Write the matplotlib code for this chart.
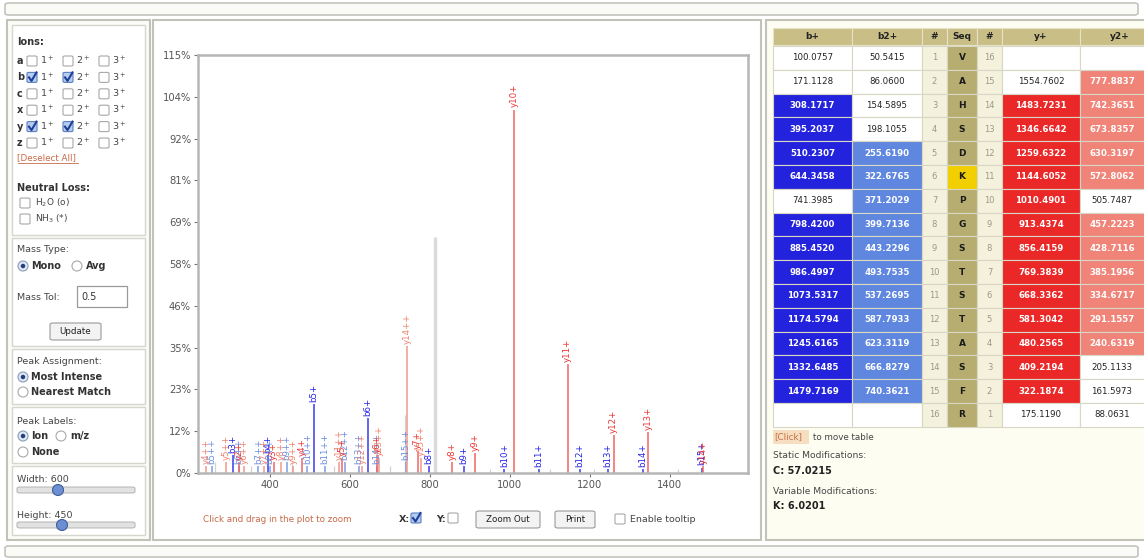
import matplotlib
matplotlib.use("Agg")
import matplotlib.pyplot as plt
from matplotlib.patches import Rectangle, FancyBboxPatch, Ellipse
from matplotlib.lines import Line2D

W, H = 1144, 559

# ---------------- data ----------------
# assigned fragment peaks (m/z, relative intensity %, label, ion type)
peak_mz = [308.17, 395.20, 510.23, 644.35, 798.42, 885.45, 986.50, 1073.53, 1174.58, 1245.62, 1332.65, 1479.72,
           255.62, 322.68, 371.20, 399.71, 443.23, 493.75, 537.27, 587.79, 623.31, 666.83, 740.36,
           322.19, 409.22, 480.26, 581.30, 668.34, 769.38, 856.42, 913.44, 1010.49, 1144.61, 1259.63, 1346.66, 1483.72,
           240.63, 291.16, 334.67, 385.20, 428.71, 457.22, 572.81, 630.32, 673.84, 742.37, 777.88]
peak_int = [5, 5, 19, 15, 2, 2, 1, 1, 1, 1, 1, 1.5,
            2, 2, 2, 2, 3, 2, 2, 3, 2, 2, 3,
            3, 3, 4, 4, 5, 6, 3, 5.5, 100, 30, 10.5, 11.3, 2,
            2, 3, 2, 2, 3, 2, 3, 2, 4, 35, 4]
peak_label = ["b3+", "b4+", "b5+", "b6+", "b8+", "b9+", "b10+", "b11+", "b12+", "b13+", "b14+", "b15+",
              "b5++", "b6++", "b7++", "b8++", "b9++", "b10++", "b11++", "b12++", "b13++", "b14++", "b15++",
              "y2+", "y3+", "y4+", "y5+", "y6+", "y7+", "y8+", "y9+", "y10+", "y11+", "y12+", "y13+", "y14+",
              "y4++", "y5++", "y6++", "y7++", "y8++", "y9++", "y11++", "y12++", "y13++", "y14++", "y15++"]
peak_type = ["b1"] * 12 + ["b2"] * 11 + ["y1"] * 13 + ["y2"] * 11

# unassigned peaks
other_mz = [813.0, 738.0, 262.0, 352.0, 455.0, 560.0, 700.0, 950.0, 1100.0, 1210.0, 1420.0]
other_int = [65, 16, 3, 2, 3, 2, 2, 1, 1, 1, 1]

x_ticks = [400, 600, 800, 1000, 1200, 1400]
y_ticks = [0, 11.5, 23, 34.5, 46, 57.5, 69, 80.5, 92, 103.5, 115]
y_tick_labels = ["0%", "12%", "23%", "35%", "46%", "58%", "69%", "81%", "92%", "104%", "115%"]

# fragment table
seq = ["V", "A", "H", "S", "D", "K", "P", "G", "S", "T", "S", "T", "A", "S", "F", "R"]
b_plus = ["100.0757", "171.1128", "308.1717", "395.2037", "510.2307", "644.3458", "741.3985", "798.4200",
          "885.4520", "986.4997", "1073.5317", "1174.5794", "1245.6165", "1332.6485", "1479.7169", ""]
b2_plus = ["50.5415", "86.0600", "154.5895", "198.1055", "255.6190", "322.6765", "371.2029", "399.7136",
           "443.2296", "493.7535", "537.2695", "587.7933", "623.3119", "666.8279", "740.3621", ""]
y_plus = ["", "1554.7602", "1483.7231", "1346.6642", "1259.6322", "1144.6052", "1010.4901", "913.4374",
          "856.4159", "769.3839", "668.3362", "581.3042", "480.2565", "409.2194", "322.1874", "175.1190"]
y2_plus = ["", "777.8837", "742.3651", "673.8357", "630.3197", "572.8062", "505.7487", "457.2223",
           "428.7116", "385.1956", "334.6717", "291.1557", "240.6319", "205.1133", "161.5973", "88.0631"]
b_match = [0, 0, 1, 1, 1, 1, 0, 1, 1, 1, 1, 1, 1, 1, 1, 0]
b2_match = [0, 0, 0, 0, 1, 1, 1, 1, 1, 1, 1, 1, 1, 1, 1, 0]
y_match = [0, 0, 1, 1, 1, 1, 1, 1, 1, 1, 1, 1, 1, 1, 1, 0]
y2_match = [0, 1, 1, 1, 1, 1, 0, 1, 1, 1, 1, 1, 1, 0, 0, 0]

# ---------------- styles ----------------
ion_color = {"b1": "#2424e6", "b2": "#6a8ee2", "y1": "#ec3434", "y2": "#f0836f"}
line_color = {"b1": "#3a3aea", "b2": "#7d9be6", "y1": "#f06464", "y2": "#f2978a"}
cell_color = {"b1": "#2323dd", "b2": "#5f87e0", "y1": "#ea2828", "y2": "#f08478"}
FONT = "DejaVu Sans"
plt.rcParams["font.family"] = FONT

fig = plt.figure(figsize=(W / 100, H / 100), dpi=100)
fig.patch.set_facecolor("white")


def fx(x):
    return x / W


def fy(y):
    return 1 - y / H


def rect(x0, y0, x1, y1, fc="none", ec="none", lw=1.0, round_=0, z=1):
    if round_:
        p = FancyBboxPatch((fx(x0), fy(y1)), (x1 - x0) / W, (y1 - y0) / H,
                           boxstyle="round,pad=0,rounding_size=%f" % (round_ / W),
                           transform=fig.transFigure, fc=fc, ec=ec, lw=lw, zorder=z)
    else:
        p = Rectangle((fx(x0), fy(y1)), (x1 - x0) / W, (y1 - y0) / H,
                      transform=fig.transFigure, fc=fc, ec=ec, lw=lw, zorder=z)
    fig.patches.append(p)


def T(x, y, s, size=7.0, color="#333333", weight="normal", ha="left", va="center", z=5):
    fig.text(fx(x), fy(y), s, fontsize=size, color=color, fontweight=weight, ha=ha, va=va, zorder=z)


def checkbox(x, y, checked=False, s=10):
    if checked:
        rect(x, y - s / 2, x + s, y + s / 2, fc="#b7cdf0", ec="#5b7fc0", lw=0.8, round_=2, z=3)
        fig.lines.append(Line2D([fx(x + 2), fx(x + 4.5), fx(x + 9.5)], [fy(y), fy(y + 3.5), fy(y - 5)],
                                transform=fig.transFigure, color="#1d3f9a", lw=1.5, zorder=4))
    else:
        rect(x, y - s / 2, x + s, y + s / 2, fc="white", ec="#a8a8a8", lw=0.8, round_=2, z=3)


def radio(x, y, sel=False, r=5):
    e = Ellipse((fx(x), fy(y)), 2 * r / W, 2 * r / H, transform=fig.transFigure,
                fc="#dfe8f6" if sel else "white", ec="#8c9cb8" if sel else "#a8a8a8", lw=0.8, zorder=3)
    fig.patches.append(e)
    if sel:
        fig.patches.append(Ellipse((fx(x), fy(y)), 4.5 / W, 4.5 / H, transform=fig.transFigure,
                                   fc="#23407a", ec="none", zorder=4))


def button(x0, y0, x1, y1, label):
    rect(x0, y0, x1, y1, fc="#f3f3f3", ec="#9a9a9a", lw=0.8, round_=3, z=3)
    T((x0 + x1) / 2, (y0 + y1) / 2 + 0.5, label, size=6.3, color="#222222", ha="center")


# ---------------- frame bars ----------------
rect(5, 3, 1138, 15, fc="#fafaf6", ec="#c4c4bc", lw=1.2, round_=4)
rect(5, 546, 1138, 557, fc="#fafaf6", ec="#c4c4bc", lw=1.2, round_=4)

# ---------------- left panel ----------------
rect(7, 20, 150, 540, fc="#fbfbf7", ec="#c2c2b8", lw=1.5)
for (a, b) in [(25, 235), (238, 346), (349, 404), (407, 463), (466, 535)]:
    rect(12, a, 145, b, fc="white", ec="#d6d6ce", lw=1.0, z=2)

T(17, 42, "Ions:", weight="bold", size=7.0)
ion_rows = ["a", "b", "c", "x", "y", "z"]
checked_rows = {"b", "y"}
for i, ion in enumerate(ion_rows):
    yy = 61 + i * 16.4
    T(17, yy, ion, weight="bold", size=7.0)
    chk = ion in checked_rows
    checkbox(27, yy, chk)
    T(40, yy, "1$^+$", size=6.8, color="#444444")
    checkbox(63, yy, chk)
    T(76, yy, "2$^+$", size=6.8, color="#444444")
    checkbox(99, yy, False)
    T(112, yy, "3$^+$", size=6.8, color="#444444")
T(17, 158, "[Deselect All]", size=6.3, color="#c86a46")
fig.lines.append(Line2D([fx(18), fx(78)], [fy(163), fy(163)], transform=fig.transFigure,
                        color="#c86a46", lw=0.6, zorder=5))

T(17, 188, "Neutral Loss:", weight="bold", size=7.0)
checkbox(20, 203)
T(35, 203, "H$_2$O (o)", size=6.5, color="#444444")
checkbox(20, 219)
T(35, 219, "NH$_3$ (*)", size=6.5, color="#444444")

T(17, 250, "Mass Type:", size=6.8, color="#444444")
radio(23, 266, True)
T(31, 266, "Mono", weight="bold", size=7.0)
radio(77, 266, False)
T(86, 266, "Avg", weight="bold", size=7.0)

T(17, 297, "Mass Tol:", size=6.8, color="#444444")
rect(77, 286, 127, 307, fc="white", ec="#9a9a9a", lw=0.9, z=3)
T(81, 296.5, "0.5", size=7.0, color="#333333")
button(50, 323, 101, 340, "Update")

T(17, 362, "Peak Assignment:", size=6.8, color="#444444")
radio(23, 377, True)
T(31, 377, "Most Intense", weight="bold", size=7.0)
radio(23, 392, False)
T(31, 392, "Nearest Match", weight="bold", size=7.0)

T(17, 422, "Peak Labels:", size=6.8, color="#444444")
radio(23, 436, True)
T(31, 436, "Ion", weight="bold", size=7.0)
radio(61, 436, False)
T(70, 436, "m/z", weight="bold", size=7.0)
radio(23, 452, False)
T(31, 452, "None", weight="bold", size=7.0)

T(17, 480, "Width: 600", size=6.8, color="#444444")
rect(17, 487, 135, 493, fc="#e2e2e2", ec="#b4b4b4", lw=0.7, round_=3, z=3)
fig.patches.append(Ellipse((fx(58), fy(490)), 11 / W, 11 / H, transform=fig.transFigure,
                           fc="#6b8fd0", ec="#3e5f9e", lw=0.8, zorder=4))
T(17, 515, "Height: 450", size=6.8, color="#444444")
rect(17, 522, 135, 528, fc="#e2e2e2", ec="#b4b4b4", lw=0.7, round_=3, z=3)
fig.patches.append(Ellipse((fx(62), fy(525)), 11 / W, 11 / H, transform=fig.transFigure,
                           fc="#6b8fd0", ec="#3e5f9e", lw=0.8, zorder=4))

# ---------------- middle panel ----------------
rect(153, 20, 761, 540, fc="white", ec="#c2c2b8", lw=1.5)

ax = fig.add_axes([fx(198), fy(473), 550 / W, 418 / H])
ax.set_zorder(20)
ax.set_facecolor("white")
ax.vlines(other_mz[:1], 0, other_int[:1], colors="#dadada", lw=2.4, zorder=1)
ax.vlines(other_mz[1:], 0, other_int[1:], colors="#d0d0d0", lw=0.9, zorder=1)
for mz, it, lab, tp in zip(peak_mz, peak_int, peak_label, peak_type):
    c = ion_color[tp]
    ax.vlines(mz, 0, it, colors=line_color[tp], lw=1.1, zorder=2)
    ax.annotate(lab, (mz, it), xytext=(0, 1.5), textcoords="offset points", rotation=90,
                ha="center", va="bottom", fontsize=6.2, color=c, zorder=3)
ax.set_xlim(220, 1596)
ax.set_ylim(0, 115)
ax.set_xticks(x_ticks)
ax.set_xticklabels([str(v) for v in x_ticks])
ax.set_yticks(y_ticks)
ax.set_yticklabels(y_tick_labels)
ax.tick_params(axis="both", labelsize=7.2, labelcolor="#555555", color="#777777", length=3, width=0.8, pad=2)
for s in ax.spines.values():
    s.set_color("#b6b6b6")
    s.set_linewidth(1.8)

T(203, 519, "Click and drag in the plot to zoom", size=6.3, color="#c86a46")
T(399, 519, "X:", weight="bold", size=6.8)
checkbox(411, 518, True)
T(436, 519, "Y:", weight="bold", size=6.8)
checkbox(448, 518, False)
button(476, 511, 540, 528, "Zoom Out")
button(555, 511, 595, 528, "Print")
checkbox(615, 519, False)
T(630, 519, "Enable tooltip", size=6.8, color="#444444")

# ---------------- right panel ----------------
rect(766, 20, 1150, 540, fc="#fdfdf1", ec="#c2c2b8", lw=1.5)

col_edges = [773, 852, 922, 947, 977, 1002, 1080, 1160]
headers = ["b+", "b2+", "#", "Seq", "#", "y+", "y2+"]
hy0, hy1 = 28, 45
for i, h in enumerate(headers):
    rect(col_edges[i], hy0, col_edges[i + 1], hy1, fc="#c9bf86", ec="#e6e2c8", lw=0.8, z=2)
    T((col_edges[i] + col_edges[i + 1]) / 2, (hy0 + hy1) / 2, h, size=6.5, weight="bold",
      color="#222222", ha="center")

row0, rh = 46, 23.8
for r in range(16):
    y0 = row0 + r * rh
    y1 = y0 + rh
    yc = (y0 + y1) / 2
    cols = [(b_plus[r], b_match[r], "b1"), (b2_plus[r], b2_match[r], "b2")]
    for ci, (val, m, tp) in enumerate(cols):
        fc = cell_color[tp] if m else "white"
        rect(col_edges[ci], y0, col_edges[ci + 1], y1, fc=fc, ec="#d8d6c4", lw=0.8, z=2)
        T((col_edges[ci] + col_edges[ci + 1]) / 2, yc, val, size=6.2,
          color="white" if m else "#222222", weight="bold" if m else "normal", ha="center")
    # residue number
    rect(col_edges[2], y0, col_edges[3], y1, fc="#f4f1dc", ec="#d8d6c4", lw=0.8, z=2)
    T((col_edges[2] + col_edges[3]) / 2, yc, str(r + 1), size=6.0, color="#9a9a8a", ha="center")
    # sequence
    fcs = "#f2cf00" if seq[r] == "K" else "#b8ad70"
    rect(col_edges[3], y0, col_edges[4], y1, fc=fcs, ec="#d8d6c4", lw=0.8, z=2)
    T((col_edges[3] + col_edges[4]) / 2, yc, seq[r], size=6.5, weight="bold", color="#1a1a1a", ha="center")
    rect(col_edges[4], y0, col_edges[5], y1, fc="#f4f1dc", ec="#d8d6c4", lw=0.8, z=2)
    T((col_edges[4] + col_edges[5]) / 2, yc, str(16 - r), size=6.0, color="#9a9a8a", ha="center")
    cols = [(y_plus[r], y_match[r], "y1"), (y2_plus[r], y2_match[r], "y2")]
    for k, (val, m, tp) in enumerate(cols):
        ci = 5 + k
        fc = cell_color[tp] if m else "white"
        rect(col_edges[ci], y0, col_edges[ci + 1], y1, fc=fc, ec="#d8d6c4", lw=0.8, z=2)
        cx = (col_edges[ci] + col_edges[ci + 1]) / 2 if ci == 5 else col_edges[ci] + 32
        T(cx, yc, val, size=6.2, color="white" if m else "#222222",
          weight="bold" if m else "normal", ha="center")

rect(773, 430, 809, 444, fc="#f6dfc0", ec="none", z=2)
T(774, 437, "[Click]", size=6.3, color="#c86a46")
T(813, 437, "to move table", size=6.3, color="#444444")
T(773, 456, "Static Modifications:", size=6.6, color="#444444")
T(773, 471, "C: 57.0215", size=7.0, weight="bold", color="#222222")
T(773, 491, "Variable Modifications:", size=6.6, color="#444444")
T(773, 506, "K: 6.0201", size=7.0, weight="bold", color="#222222")

fig.savefig("out.png", dpi=100, facecolor=fig.get_facecolor())
